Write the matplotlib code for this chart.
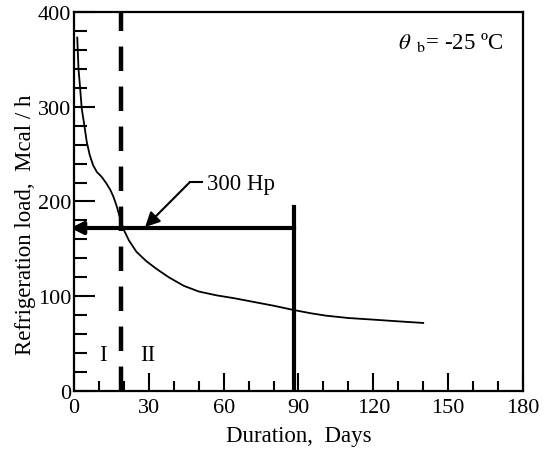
import numpy as np
import matplotlib
matplotlib.use("Agg")
import matplotlib.pyplot as plt
from matplotlib.ticker import MultipleLocator

plt.rcParams['font.family'] = ['Liberation Serif', 'DejaVu Serif']
plt.rcParams['mathtext.fontset'] = 'stix'

# Carga de refrigeracion frente a duracion
dias = [1.3, 1.8, 2.5, 3.1, 4.0, 5.1, 6.3, 7.7, 9.2, 11.1, 13.0, 14.6, 15.8,
        17.0, 18.3, 19.8, 22, 25, 29, 33, 38, 44, 50, 57, 64, 72, 80, 88, 95,
        101, 110, 120, 130, 140]
carga = [373, 340, 318, 298, 283, 263, 249, 238, 231, 226, 219, 212, 205,
         196, 184, 171, 159, 147, 137, 129, 120, 111, 105, 101, 98, 94, 90,
         85.5, 82, 79.5, 77, 75.3, 73.5, 71.8]

# Lineas de referencia
dia_limite = 19        # frontera entre zonas I y II
dia_fin = 88           # fin del periodo
carga_300hp = 172      # capacidad 300 Hp
altura_fin = 194

fig = plt.figure(figsize=(5.45, 4.56), dpi=100)
ax = fig.add_axes([0.1358, 0.1404, 0.8238, 0.8311])

ax.plot(dias, carga, color='black', lw=1.3, solid_joinstyle='round')

# linea discontinua vertical
ax.plot([dia_limite, dia_limite], [0, 400], color='black', lw=3.2,
        linestyle=(0, (5.5, 3.5)))

# linea horizontal gruesa con flecha hacia el eje
ax.plot([1.5, dia_fin], [carga_300hp, carga_300hp], color='black', lw=3)
ax.annotate('', xy=(-2.5, carga_300hp), xytext=(4, carga_300hp),
            arrowprops=dict(arrowstyle='-|>', color='black', lw=3,
                            mutation_scale=18), annotation_clip=False)

# linea vertical gruesa
ax.plot([dia_fin, dia_fin], [0, altura_fin], color='black', lw=3)

# etiqueta 300 Hp
ax.plot([46.5, 51.3], [220.6, 220.6], color='black', lw=1.5)
ax.annotate('', xy=(28.5, carga_300hp + 1), xytext=(46.5, 220.6),
            arrowprops=dict(arrowstyle='-|>', color='black', lw=1.5,
                            mutation_scale=22, shrinkA=0, shrinkB=0))
ax.text(53.5, 219, '300 Hp', fontsize=16.5, va='center', ha='left')

ax.text(11.6, 39, 'I', fontsize=16.5, ha='center', va='center')
ax.text(29.7, 39, 'II', fontsize=16.5, ha='center', va='center')

ax.text(172, 369, r'$\theta_{\ \ \mathrm{b}}$= -25 ºC', fontsize=16.5,
        ha='right', va='center')

ax.set_xlim(0, 180)
ax.set_ylim(0, 400)
ax.xaxis.set_major_locator(MultipleLocator(30))
ax.xaxis.set_minor_locator(MultipleLocator(10))
ax.yaxis.set_major_locator(MultipleLocator(100))
ax.yaxis.set_minor_locator(MultipleLocator(20))
ax.tick_params(axis='x', which='major', direction='in', length=13, width=1.5,
               pad=5, labelsize=16, top=False)
ax.tick_params(axis='x', which='minor', direction='in', length=7, width=1.5,
               top=False)
ax.tick_params(axis='y', which='major', direction='in', length=15, width=1.5,
               pad=2, labelsize=16, right=False)
ax.tick_params(axis='y', which='minor', direction='in', length=9.5, width=1.5,
               right=False)
for s in ax.spines.values():
    s.set_linewidth(1.6)

ax.set_xlabel('Duration,  Days', fontsize=16.5, labelpad=6)
ax.set_ylabel('Refrigeration load,  Mcal / h', fontsize=16.5)
ax.yaxis.set_label_coords(-0.085, 0.44)

fig.savefig('out.png', dpi=100)
